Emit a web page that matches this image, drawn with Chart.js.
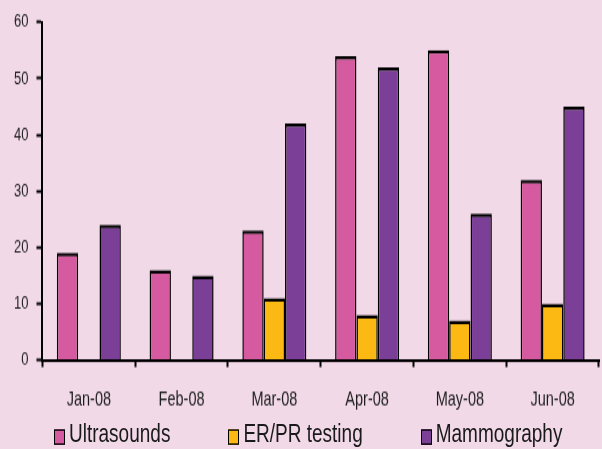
<!DOCTYPE html>
<html>
<head>
<meta charset="utf-8">
<script src="https://cdn.jsdelivr.net/npm/chart.js@4.4.1/dist/chart.umd.min.js"></script>
<style>
  html, body { margin: 0; padding: 0; background: #f1d9e8; }
  body { width: 602px; height: 449px; }
  #wrap { position: relative; width: 602px; height: 320px; transform: scaleY(1.403125); transform-origin: 0 0; }
  #legend { position: absolute; left: 54px; top: 299px; display: flex; gap: 58px; align-items: flex-end;
    font-family: 'Liberation Sans', Arial, sans-serif; font-size: 19px; color: #1a1a1a; line-height: 19px; }
  #legend .item { display: flex; align-items: flex-end; }
  #legend .box { width: 9px; height: 9px; border: 1.5px solid #000; margin-right: 4px; margin-bottom: 1px; }
</style>
</head>
<body>
<div id="wrap">
  <canvas id="chart" width="602" height="320"></canvas>
  <div id="legend"></div>
</div>
<script>
// data
const months = ['Jan-08', 'Feb-08', 'Mar-08', 'Apr-08', 'May-08', 'Jun-08'];
const ultrasounds = [19, 16, 23, 54, 55, 32];
const erPrTesting = [null, null, 11, 8, 7, 10];
const mammography = [24, 15, 42, 52, 26, 45];
const seriesNames = ['Ultrasounds', 'ER/PR testing', 'Mammography'];
const seriesColors = ['#d65a9f', '#fdb913', '#7c3f97'];
const yMax = 60;
const yStep = 10;

const font = 'Liberation Sans';
const seriesValues = [ultrasounds, erPrTesting, mammography];

const datasets = seriesNames.map((name, i) => ({
  label: name,
  data: seriesValues[i],
  backgroundColor: seriesColors[i],
  borderColor: '#000',
  borderWidth: { top: 2.5, left: 1.5, right: 1.5, bottom: 0 },
  borderSkipped: 'start'
}));

new Chart(document.getElementById('chart'), {
  type: 'bar',
  data: { labels: months, datasets },
  options: {
    responsive: false,
    animation: false,
    devicePixelRatio: 1,
    layout: { padding: { left: 6, right: 3, top: 8, bottom: 11 } },
    plugins: { legend: { display: false }, tooltip: { enabled: false } },
    datasets: { bar: { categoryPercentage: 0.69, barPercentage: 1.0 } },
    scales: {
      x: {
        grid: { display: true, drawOnChartArea: false, drawTicks: true, tickLength: 5, tickColor: '#000', tickWidth: 2, offset: true },
        border: { display: true, color: '#000', width: 2 },
        ticks: { color: '#1e1e1e', font: { family: font, size: 14.5 }, padding: 15, maxRotation: 0 }
      },
      y: {
        min: 0,
        max: yMax,
        grid: { display: true, drawOnChartArea: false, drawTicks: true, tickLength: 6, tickColor: '#000', tickWidth: 2 },
        border: { display: true, color: '#000', width: 2 },
        ticks: { stepSize: yStep, color: '#1e1e1e', font: { family: font, size: 13 }, padding: 8 }
      }
    }
  }
});

// legend
const legend = document.getElementById('legend');
legend.innerHTML = seriesNames.map((name, i) =>
  `<span class="item"><span class="box" style="background:${seriesColors[i]}"></span>${name}</span>`
).join('');
</script>
</body>
</html>
